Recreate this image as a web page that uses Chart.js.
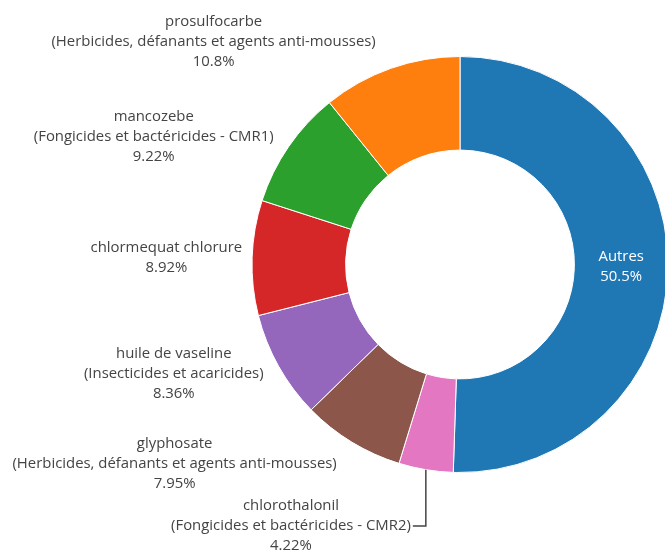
<!DOCTYPE html>
<html>
<head>
<meta charset="utf-8">
<script src="https://cdn.jsdelivr.net/npm/chart.js@4.4.1/dist/chart.umd.min.js"></script>
<style>
  html, body { margin: 0; padding: 0; background: #fff; overflow: hidden; }
  #wrap { position: relative; width: 700px; height: 551px; }
</style>
</head>
<body>
<div id="wrap"><canvas id="pie"></canvas></div>
<script>
// substances, in drawing order (clockwise from the top)
var substances = ['Autres', 'chlorothalonil', 'glyphosate', 'huile de vaseline',
    'chlormequat chlorure', 'mancozebe', 'prosulfocarbe'];
var families = ['', '(Fongicides et bactéricides - CMR2)',
    '(Herbicides, défanants et agents anti-mousses)', '(Insecticides et acaricides)',
    '', '(Fongicides et bactéricides - CMR1)',
    '(Herbicides, défanants et agents anti-mousses)'];
var shares = [50.5, 4.22, 7.95, 8.36, 8.92, 9.22, 10.8];
var colors = ['#1f77b4', '#e377c2', '#8c564b', '#9467bd', '#d62728', '#2ca02c', '#ff7f0e'];

var FONT = '14.9px "Open Sans"';
var LINE_H = 20;

function labelLines(i) {
    var lines = [substances[i]];
    if (families[i]) lines.push(families[i]);
    lines.push(shares[i].toPrecision(3) + '%');
    return lines;
}

// plotly-like slice labels: big slice inside, others outside with leader lines when pushed
var sliceLabels = {
    id: 'sliceLabels',
    afterDatasetsDraw: function(chart) {
        var ctx = chart.ctx;
        var arcs = chart.getDatasetMeta(0).data;
        ctx.save();
        ctx.font = FONT;
        ctx.textAlign = 'center';
        ctx.textBaseline = 'middle';
        var outside = [];
        arcs.forEach(function(arc, i) {
            var p = arc.getProps(['x', 'y', 'startAngle', 'endAngle', 'innerRadius', 'outerRadius']);
            var mid = (p.startAngle + p.endAngle) / 2;
            var lines = labelLines(i);
            if (i === 0) {
                var r = (p.innerRadius + p.outerRadius) / 2;
                drawLines(ctx, lines, p.x + r * Math.cos(mid), p.y + r * Math.sin(mid), '#fff');
                return;
            }
            var px = p.outerRadius * Math.cos(mid);
            var py = p.outerRadius * Math.sin(mid);
            var w = 0;
            lines.forEach(function(t) { w = Math.max(w, ctx.measureText(t).width); });
            var h = lines.length * LINE_H;
            var dx = w / 2 * (px < 0 ? -1 : 1);
            var dy = h / 2 * (py < 0 ? -1 : 1);
            var cx = p.x + px + dx + Math.abs(dy) * (dx > 0 ? 1 : -1) / 2;
            var cy = p.y + py + dy / (1 + px * px / (py * py));
            outside.push({ i: i, lines: lines, w: w, h: h, cx: cx, cy: cy,
                ax: p.x + px, ay: p.y + py, moved: false });
        });
        // push overlapping labels in the lower half downwards
        var centerY = arcs[0].y;
        var lower = outside.filter(function(l) { return l.ay > centerY; });
        lower.sort(function(a, b) { return a.cy - b.cy; });
        for (var k = 1; k < lower.length; k++) {
            var prevBottom = lower[k - 1].cy + lower[k - 1].h / 2;
            var top = lower[k].cy - lower[k].h / 2;
            if (top < prevBottom + 2) {
                lower[k].cy += prevBottom + 2 - top;
                lower[k].moved = true;
            }
        }
        outside.forEach(function(l) {
            drawLines(ctx, l.lines, l.cx, l.cy, '#444');
            if (l.moved) {
                var edge = l.cx + (l.ax > l.cx ? 1 : -1) * (l.w / 2 + 2);
                ctx.beginPath();
                ctx.moveTo(l.ax, l.ay);
                ctx.lineTo(l.ax, l.cy);
                ctx.lineTo(edge, l.cy);
                ctx.strokeStyle = '#444';
                ctx.lineWidth = 1.5;
                ctx.stroke();
            }
        });
        ctx.restore();
    }
};

function drawLines(ctx, lines, x, y, color) {
    ctx.fillStyle = color;
    lines.forEach(function(t, j) {
        ctx.fillText(t, x, y + (j - (lines.length - 1) / 2) * LINE_H);
    });
}

var ctx = document.getElementById('pie').getContext('2d');
var pie = new Chart(ctx, {
    type: 'doughnut',
    data: {
        labels: substances,
        datasets: [{
            data: shares,
            backgroundColor: colors,
            borderColor: '#fff',
            borderWidth: 1,
            hoverOffset: 0
        }]
    },
    options: {
        responsive: true,
        maintainAspectRatio: false,
        animation: false,
        events: [],
        cutout: '55%',
        layout: { padding: { left: 251.5, right: 31.5, top: 56, bottom: 78 } },
        plugins: {
            legend: { display: false },
            tooltip: { enabled: false }
        }
    },
    plugins: [sliceLabels]
});
</script>
</body>
</html>
